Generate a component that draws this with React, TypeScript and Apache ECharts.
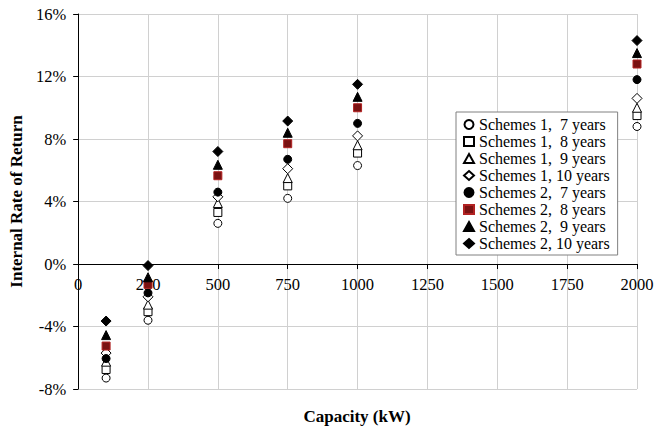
import React, { useEffect, useRef } from "react";
import * as echarts from "echarts";

const capacities = [100, 250, 500, 750, 1000, 2000];
const s1y7 = [-7.3, -3.6, 2.6, 4.2, 6.3, 8.8];
const s1y8 = [-6.75, -3.05, 3.3, 5.0, 7.1, 9.5];
const s1y9 = [-6.25, -2.6, 3.9, 5.5, 7.6, 10.0];
const s1y10 = [-5.7, -2.1, 4.3, 6.1, 8.2, 10.6];
const s2y7 = [-6.05, -1.85, 4.6, 6.7, 9.0, 11.8];
const s2y8 = [-5.25, -1.3, 5.65, 7.7, 10.0, 12.8];
const s2y9 = [-4.55, -0.85, 6.35, 8.4, 10.7, 13.5];
const s2y10 = [-3.65, -0.1, 7.2, 9.15, 11.5, 14.3];
const seriesNames = [
  "Schemes 1,  7 years",
  "Schemes 1,  8 years",
  "Schemes 1,  9 years",
  "Schemes 1, 10 years",
  "Schemes 2,  7 years",
  "Schemes 2,  8 years",
  "Schemes 2,  9 years",
  "Schemes 2, 10 years",
];
const yTicks = { min: -8, max: 16, interval: 4 };
const xTicks = { min: 0, max: 2000, interval: 250 };

const FONT = "'Liberation Serif', 'Times New Roman', serif";

export default function App() {
  const ref = useRef<HTMLDivElement>(null);
  useEffect(() => {
    document.body.style.margin = "0";
    if (!ref.current) return;
    const chart = echarts.init(ref.current, null, { renderer: "svg" });
    const allValues = [s1y7, s1y8, s1y9, s1y10, s2y7, s2y8, s2y9, s2y10];
    const styles = [
      { symbol: "circle", size: 8, color: "#ffffff", border: "#000000" },
      { symbol: "rect", size: 8, color: "#ffffff", border: "#000000" },
      { symbol: "triangle", size: 9, color: "#ffffff", border: "#000000" },
      { symbol: "diamond", size: 10, color: "#ffffff", border: "#000000" },
      { symbol: "circle", size: 8, color: "#000000", border: "#000000" },
      { symbol: "rect", size: 8, color: "#7a1212", border: "#b22222" },
      { symbol: "triangle", size: 9, color: "#000000", border: "#000000" },
      { symbol: "diamond", size: 10, color: "#000000", border: "#000000" },
    ];
    const series = allValues.map((vals, i) => ({
      type: "scatter",
      name: seriesNames[i],
      symbol: styles[i].symbol,
      symbolSize: styles[i].size,
      itemStyle: {
        color: styles[i].color,
        borderColor: styles[i].border,
        borderWidth: 1,
        opacity: 1,
      },
      data: capacities.map((c, j) => [c, vals[j]]),
    }));
    const gridTop = 14;
    const gridBottom = 39;
    const plotHeight = 428 - gridTop - gridBottom;
    // shift the x axis up to the 0% line (layout only)
    const zeroOffset = -plotHeight * ((0 - yTicks.min) / (yTicks.max - yTicks.min));
    chart.setOption({
      animation: false,
      backgroundColor: "#ffffff",
      textStyle: { fontFamily: FONT },
      grid: { left: 77, right: 31, top: gridTop, bottom: gridBottom, containLabel: false },
      legend: {
        orient: "vertical",
        left: 456,
        top: 112,
        padding: [4, 8, 3, 7],
        itemGap: 0,
        itemWidth: 10,
        itemHeight: 9,
        backgroundColor: "#ffffff",
        borderColor: "#808080",
        borderWidth: 1,
        textStyle: {
          fontFamily: FONT,
          fontSize: 16,
          color: "#000000",
          lineHeight: 17,
          padding: [0, 0, 0, 0],
        },
        data: seriesNames,
      },
      xAxis: {
        type: "value",
        min: xTicks.min,
        max: xTicks.max,
        interval: xTicks.interval,
        offset: zeroOffset,
        axisLine: { onZero: false, lineStyle: { color: "#000000", width: 1 } },
        axisTick: { show: true, length: 5, lineStyle: { color: "#000000" } },
        axisLabel: {
          fontFamily: FONT,
          fontSize: 16.5,
          color: "#000000",
          margin: 12,
          formatter: (v: number) => String(v),
        },
        splitLine: { show: true, lineStyle: { color: "#d0d0d0", width: 1 } },
      },
      yAxis: {
        type: "value",
        min: yTicks.min,
        max: yTicks.max,
        interval: yTicks.interval,
        name: "Internal Rate of Return",
        nameLocation: "middle",
        nameGap: 52,
        nameTextStyle: {
          fontFamily: FONT,
          fontSize: 17,
          fontWeight: "bold",
          color: "#000000",
        },
        axisLine: { show: true, onZero: false, lineStyle: { color: "#000000", width: 1 } },
        axisTick: { show: true, length: 5, lineStyle: { color: "#000000" } },
        axisLabel: {
          fontFamily: FONT,
          fontSize: 16.5,
          color: "#000000",
          margin: 12,
          formatter: (v: number) => `${v}%`,
        },
        splitLine: { show: true, lineStyle: { color: "#d0d0d0", width: 1 } },
      },
      graphic: [
        {
          type: "text",
          x: 357,
          y: 416,
          style: {
            text: "Capacity (kW)",
            textAlign: "center",
            textVerticalAlign: "middle",
            fontFamily: FONT,
            fontSize: 17,
            fontWeight: "bold",
            fill: "#000000",
          },
        },
      ],
      series,
    });
    return () => chart.dispose();
  }, []);
  return <div ref={ref} style={{ width: 668, height: 428 }} />;
}
